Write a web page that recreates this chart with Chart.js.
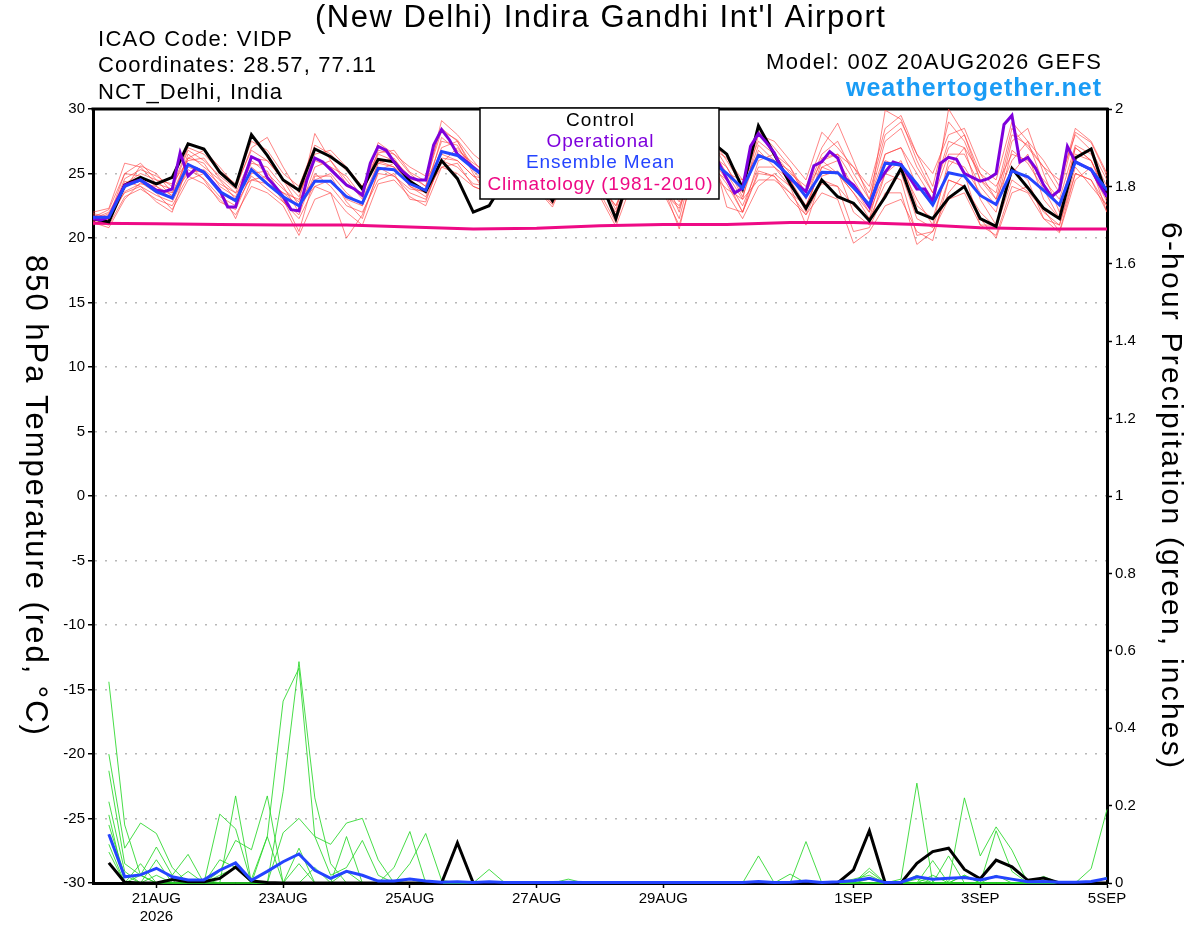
<!DOCTYPE html>
<html>
<head>
<meta charset="utf-8">
<title>VIDP GEFS meteogram</title>
<script src="https://cdn.jsdelivr.net/npm/chart.js@4.4.1/dist/chart.umd.min.js"></script>
<style>
  html, body { margin: 0; padding: 0; background: #fff; }
  #wrap { width: 1200px; height: 927px; position: relative; }
</style>
</head>
<body>
<div id="wrap"><canvas id="meteogram" width="1200" height="927"></canvas></div>
<script>
// time axis (hours after 00Z 20AUG2026)
const hours6 = Array.from({ length: 65 }, (_, i) => i * 6);
const hours3 = Array.from({ length: 129 }, (_, j) => j * 3);
const precipHours = hours6.slice(1);
const climHours = [0, 24, 48, 72, 96, 120, 144, 168, 192, 216, 240, 264, 288, 312, 336, 360, 384];

const tickHours = [24, 72, 120, 168, 216, 288, 336, 384];
const tickLabels = [['21AUG', '2026'], '23AUG', '25AUG', '27AUG', '29AUG', '1SEP', '3SEP', '5SEP'];

// 850 hPa temperature (C)
const tempControl = [21.5,21.25,24.1,24.7,24.2,24.7,27.3,26.9,25.1,24.0,
  28.0,26.4,24.5,23.7,26.9,26.3,25.4,23.8,26.1,25.9,
  24.4,23.6,26.0,24.6,22.0,22.5,24.5,25.5,24.8,22.9,
  25.5,26.0,24.5,21.5,25.5,26.3,25.5,24.0,26.8,27.5,
  26.5,23.85,28.7,26.5,24.2,22.3,24.5,23.2,22.7,21.35,
  23.2,25.4,22.0,21.5,23.1,24.0,21.5,20.9,25.4,23.9,
  22.3,21.5,26.2,26.9,23.2];

const tempMean = [21.6,21.6,24.0,24.5,23.6,23.1,25.7,25.1,23.6,22.9,
  25.3,24.2,23.2,22.5,24.4,24.4,23.2,22.7,25.4,25.3,
  24.2,23.7,26.7,26.4,25.4,24.5,26.0,25.8,25.0,24.0,
  26.0,25.8,24.8,23.3,25.8,25.9,25.2,24.4,26.2,26.0,
  25.0,23.85,26.4,25.9,24.75,23.2,25.1,25.06,23.9,22.6,
  25.8,25.66,24.2,22.56,25.06,24.8,23.3,22.6,25.2,24.75,
  23.7,22.56,25.9,25.3,23.7];

// operational run, 3-hourly
const tempOper = [21.5,21.4,21.6,22.9,24.1,24.3,24.5,24.1,23.7,23.6,
  23.8,26.6,24.8,25.4,25.1,24.4,23.7,22.4,22.4,24.5,
  26.3,26.0,24.7,24.0,23.2,22.2,22.1,24.5,26.2,25.9,
  25.3,24.7,24.1,23.8,23.3,25.8,27.1,26.8,25.9,25.2,
  24.7,24.5,24.5,27.2,28.4,27.6,26.5,26.0,25.5,25.0,
  24.2,25.5,27.0,26.8,26.0,25.3,24.8,24.3,23.8,25.5,
  27.2,26.9,26.1,25.4,24.9,24.4,24.0,25.8,27.4,27.0,
  26.2,25.5,25.0,24.6,24.2,26.0,27.6,27.2,26.5,25.8,
  24.6,23.5,23.85,27.1,28.1,27.4,26.6,25.3,24.6,24.1,
  23.6,25.6,25.9,26.7,26.2,24.6,24.1,23.3,22.4,24.2,
  25.1,25.9,25.7,24.75,23.8,23.8,22.8,25.8,26.25,26.1,
  25.0,24.7,24.4,24.6,25.0,28.8,29.5,25.9,26.25,25.4,
  24.1,23.2,23.7,27.1,25.9,25.6,25.3,24.2,23.2];

const tempClim = [21.14,21.1,21.05,21.0,21.0,20.85,20.7,20.75,20.95,21.05,21.05,21.2,21.2,21.05,20.8,20.7,20.7];

const tempMember01 = [21.8,21.5,24.6,25.3,24.8, 24.0,27.0,26.5,25.2, 24.2,27.5,26.8,25.0, 24.0,27.2,26.5,25.2,
  24.0,26.6,26.8,25.1, 24.4,28.3,27.6,26.0, 24.5,26.8,27.2,25.5, 23.6,26.5,27.3,25.8, 23.2,26.8,27.0,25.5,
  24.5,27.5,27.8,26.0, 24.0,28.3,27.0,25.5, 23.5,26.5,27.5,25.0, 23.0,27.5,28.5,25.5, 23.5,27.0,28.0,25.0,
  23.0,28.0,27.2,25.5, 23.5,28.2,27.4,24.8];
const tempMember02 = [21.3,21.0,23.2,23.8,23.0, 22.5,24.8,24.2,23.0, 21.8,24.0,23.5,22.5, 20.2,23.0,23.5,22.0,
  21.0,24.2,24.5,23.2, 22.5,25.5,25.8,24.0, 23.5,25.0,24.8,23.8, 22.6,25.0,24.6,23.2, 20.9,24.2,24.8,23.5,
  22.3,25.5,25.8,24.2, 22.0,25.2,24.8,23.5, 21.8,24.5,24.0,22.5, 21.5,24.2,25.0,21.5, 20.8,24.5,24.0,22.0,
  20.8,24.5,23.6,22.2, 20.5,25.0,24.5,22.0];
const tempMember03 = [21.6,22.2,25.0,25.8,24.5, 23.2,26.2,25.8,24.0, 23.2,26.0,25.0,23.8, 22.8,28.1,26.0,24.2,
  23.4,26.5,26.0,24.8, 24.0,29.1,28.0,26.5, 25.5,27.0,26.5,25.0, 24.0,26.8,26.2,25.0, 23.5,26.5,26.8,26.0,
  25.0,27.0,27.0,26.2, 24.5,27.5,26.5,25.5, 23.0,26.2,26.5,24.5, 22.5,29.9,29.2,26.0, 23.5,27.5,27.0,25.0,
  24.0,26.5,26.0,24.5, 23.0,27.2,26.5,24.0];
const tempMember04 = [21.0,21.8,23.5,24.0,23.3, 22.8,25.3,24.6,23.2, 22.5,24.8,23.8,22.8, 21.5,24.0,23.5,20.0,
  21.8,25.0,24.8,23.5, 23.0,26.0,25.5,24.2, 24.0,25.5,25.3,24.5, 22.8,25.5,25.2,23.8, 22.0,25.0,25.5,24.0,
  20.7,25.8,25.5,24.5, 22.0,25.0,24.8,23.0, 21.8,23.5,23.0,19.6, 20.5,22.5,23.0,20.5, 19.8,24.5,24.0,21.5,
  20.0,23.5,24.0,22.0, 21.0,25.0,24.5,22.5];
const tempMember05 = [22.0,22.3,25.8,25.5,24.2, 23.8,26.8,26.0,24.8, 23.8,27.0,27.8,25.5, 23.5,26.0,25.5,24.0,
  23.5,27.4,26.5,25.0, 24.0,27.5,27.2,25.0, 23.0,26.0,26.0,24.5, 22.9,26.2,26.5,24.5, 22.2,26.0,26.5,25.0,
  22.0,26.8,27.0,22.4, 22.0,26.0,26.5,25.0, 24.0,27.0,28.9,26.0, 23.0,26.5,27.0,24.0, 22.5,30.0,28.0,24.5,
  23.0,26.0,27.5,24.2, 22.5,26.5,26.0,23.5];
const tempMember06 = [21.4,21.2,24.0,24.5,23.8, 23.5,25.5,25.0,23.5, 22.8,25.5,24.5,23.5, 23.0,24.5,25.0,23.5,
  22.5,25.8,25.5,24.0, 23.5,27.0,27.5,25.5, 24.0,25.8,26.2,24.0, 22.7,25.8,26.0,24.0, 21.8,25.5,25.2,24.0,
  21.5,26.2,26.5,25.5, 23.2,26.8,25.5,24.0, 22.5,25.5,25.0,23.5, 21.5,26.0,25.5,23.0, 21.0,26.0,25.5,23.5,
  22.0,26.8,25.8,23.8, 21.5,26.0,25.2,22.8];
const tempMember07 = [21.9,21.6,25.0,24.8,24.0, 23.0,26.5,25.5,24.5, 23.0,25.8,25.5,24.0, 22.0,25.5,26.0,24.5,
  23.0,25.8,26.2,24.5, 23.5,27.8,26.8,25.8, 25.0,27.5,27.0,25.8, 24.2,27.0,27.5,26.0, 24.0,27.0,27.5,26.5,
  25.0,28.0,27.5,25.5, 23.5,27.2,26.0,25.2, 23.5,26.0,26.5,25.5, 24.0,28.5,29.5,26.5, 25.0,28.0,28.5,25.5,
  24.5,29.0,27.5,26.0, 24.0,28.5,27.5,25.0];
const tempMember08 = [21.2,20.8,23.0,24.3,23.5, 22.2,24.5,25.0,23.8, 21.5,24.5,24.8,22.8, 21.8,25.0,24.0,22.5,
  22.0,24.5,25.0,23.0, 22.8,26.2,26.0,24.8, 23.8,25.2,25.5,23.8, 22.4,25.2,25.8,23.5, 21.2,25.0,25.8,23.5,
  21.0,25.5,26.0,23.5, 21.5,24.0,25.0,24.0, 21.0,24.8,25.2,22.0, 21.0,25.0,24.5,20.2, 20.5,23.5,25.0,21.0,
  21.0,25.5,24.5,21.5, 20.4,24.5,25.5,22.0];
const tempMember09 = [21.5,22.0,24.2,25.0,24.5, 24.2,26.0,26.2,24.6, 23.5,26.2,26.0,24.5, 23.2,26.5,26.8,25.5,
  24.0,26.0,25.5,24.5, 24.5,26.5,26.0,24.8, 24.5,26.5,26.0,25.0, 23.5,26.5,26.2,25.0, 23.5,26.2,26.0,25.0,
  24.5,26.5,26.5,25.0, 24.5,26.5,26.0,24.5, 22.5,25.5,26.0,24.0, 22.0,26.5,27.0,25.0, 23.0,26.5,26.5,24.0,
  22.5,27.5,28.5,25.0, 22.0,27.0,26.0,23.0];
const tempMember10 = [21.7,21.4,24.4,24.0,22.8, 22.0,25.8,24.5,22.8, 22.2,25.0,25.2,23.0, 20.5,24.8,24.8,22.8,
  21.5,25.2,25.8,24.0, 23.2,25.8,27.0,25.5, 24.5,26.0,25.5,24.2, 23.0,25.5,25.5,24.2, 22.5,25.5,26.0,24.5,
  22.8,26.0,26.2,24.5, 22.5,25.5,25.5,24.5, 22.0,26.0,25.0,23.5, 22.0,25.0,26.0,22.5, 21.5,25.5,27.0,23.0,
  21.0,25.0,26.5,23.0, 21.5,27.0,26.0,23.5];
const tempMember11 = [21.3,21.9,23.8,25.6,25.0, 23.5,26.2,26.8,25.5, 24.0,26.8,26.0,24.5, 22.5,26.2,25.5,24.8,
  23.2,26.8,26.5,25.5, 24.8,28.5,27.5,25.2, 24.0,26.5,26.8,25.2, 23.8,26.8,27.0,25.2, 23.0,26.5,27.0,25.5,
  24.0,27.2,27.0,25.0, 23.0,28.0,27.5,26.0, 24.5,28.2,27.0,25.5, 23.5,28.0,29.0,26.5, 24.0,29.0,27.5,24.5,
  23.5,28.5,27.0,25.5, 24.5,28.0,26.8,24.5];
const tempMember12 = [21.5,21.3,23.6,24.2,24.0, 23.3,25.0,25.3,24.2, 23.5,24.5,24.2,23.5, 22.5,24.0,24.5,23.0,
  22.5,25.5,24.8,23.8, 23.6,25.5,25.0,24.0, 23.5,25.5,25.8,24.5, 23.0,25.0,25.5,24.0, 22.5,25.2,25.0,23.5,
  22.5,25.5,25.0,23.8, 23.0,24.5,24.5,23.5, 22.5,24.2,24.0,20.5, 20.8,23.5,23.5,19.5, 20.5,23.0,23.5,21.0,
  20.2,24.0,23.5,21.5, 21.0,25.5,24.0,22.5];

const tempMembers = [tempMember01, tempMember02, tempMember03, tempMember04, tempMember05, tempMember06,
  tempMember07, tempMember08, tempMember09, tempMember10, tempMember11, tempMember12];

// 6-hour precipitation (inches), hours 6..384
const precipControl = [0.052,0.002,0,0,0.009,0.003,0.003,0.012,0.041,0.005,0.001,0,0,0,0,0,
  0,0,0,0,0,0,0.104,0,0,0,0,0,0,0,0,0,
  0,0,0,0,0,0,0,0,0,0,0,0,0,0,0,0.034,
  0.135,0,0,0.051,0.081,0.09,0.035,0.011,0.059,0.042,0.007,0.013,0,0,0,0];
const precipMean = [0.126,0.016,0.021,0.038,0.016,0.008,0.008,0.033,0.052,0.007,0.03,0.055,0.075,0.033,0.012,0.03,
  0.02,0.005,0.005,0.01,0.005,0.002,0.003,0.001,0.003,0.001,0.001,0.001,0.001,0.002,0.001,0.001,
  0.001,0.001,0.001,0.001,0.001,0.001,0.001,0.001,0.001,0.004,0.001,0.002,0.005,0.001,0.003,0.006,
  0.012,0.001,0.002,0.016,0.01,0.012,0.014,0.008,0.017,0.01,0.003,0.004,0.002,0.002,0.004,0.012];

const precipMember01 = [0.52,0.15,0.02,0,0.01,0,0,0.02,0.04,0.01,0.12,0.47,0.555,0.12,0.02,0.04,
  0.11,0.02,0,0.01,0,0,0,0,0.035,0,0,0,0,0,0,0,
  0,0,0,0,0,0,0,0,0,0.07,0,0,0,0,0,0,
  0,0,0,0,0,0,0,0,0,0,0,0,0,0,0.037,0.19];
const precipMember02 = [0.333,0.09,0.155,0.128,0.04,0,0.01,0,0.225,0,0,0.236,0.572,0.22,0.05,0,
  0,0,0.04,0.133,0,0,0,0,0,0,0,0,0,0,0,0,
  0,0,0,0,0,0,0,0,0,0,0,0,0.107,0,0,0,
  0.038,0,0,0,0,0,0.22,0.07,0.145,0.085,0,0,0,0,0,0];
const precipMember03 = [0.29,0.05,0.02,0.093,0.02,0.074,0,0.178,0.14,0,0,0.13,0.167,0.12,0.1,0.155,
  0.167,0.06,0,0,0,0,0,0,0,0,0,0,0,0.01,0,0,
  0,0,0,0,0,0,0,0,0,0,0,0.023,0,0,0,0,
  0.01,0,0.01,0.258,0,0.07,0,0,0.135,0.03,0,0,0,0,0,0];
const precipMember04 = [0.21,0.03,0,0.06,0,0,0,0.03,0.11,0.086,0.225,0,0.09,0,0,0.12,
  0,0,0,0.05,0.128,0.007,0,0,0,0,0,0,0,0,0,0,
  0,0,0,0,0,0,0,0,0,0,0,0,0,0,0,0,
  0,0,0,0.02,0,0,0.02,0,0,0,0,0.017,0,0,0,0];
const precipMember05 = [0.176,0,0.02,0,0,0.03,0,0,0,0,0.12,0,0,0.04,0,0,
  0,0,0,0,0,0,0,0,0,0,0,0,0,0,0,0,
  0,0,0,0,0,0,0,0,0,0,0,0,0,0,0,0,
  0.03,0,0,0,0.058,0,0,0,0.02,0,0,0,0,0,0,0.015];
const precipMember06 = [0.15,0.02,0,0,0,0,0,0,0,0,0,0,0.05,0,0,0,
  0,0,0,0,0,0,0,0,0,0,0,0,0,0,0,0,
  0,0,0,0,0,0,0,0,0,0,0,0,0,0,0,0.01,
  0.02,0,0,0.01,0,0,0,0,0,0,0,0,0,0,0,0];
const precipMember07 = [0.1,0,0.05,0,0,0,0,0,0,0,0,0,0,0,0,0,
  0,0,0,0,0,0,0,0,0,0,0,0,0,0,0,0,
  0,0,0,0,0,0,0,0,0,0,0,0,0,0,0,0,
  0,0,0,0,0.02,0,0.02,0,0,0,0,0,0,0,0,0];
const precipMember08 = [0.08,0,0,0.02,0,0,0,0.06,0.04,0,0,0,0,0,0,0.03,
  0,0,0,0,0,0,0,0,0,0,0,0,0,0,0,0,
  0,0,0,0,0,0,0,0,0,0,0,0,0,0,0,0,
  0,0,0,0,0,0,0,0,0,0,0,0,0,0,0,0];

const precipMembers = [precipMember01, precipMember02, precipMember03, precipMember04,
  precipMember05, precipMember06, precipMember07, precipMember08];

// ---------------------------------------------------------------
const FONT = '"Liberation Sans", Arial, Helvetica, sans-serif';
const RED = 'rgba(255, 60, 60, 0.7)';
const GREEN = 'rgba(40, 215, 40, 0.95)';
const PURPLE = '#7e00dc';
const BLUE = '#2444ff';
const CLIM = '#ee0a85';

function toPoints(hours, values) {
    return values.map((v, k) => ({ x: hours[k], y: v }));
}

function line(label, hours, values, color, width, axis, order, clip) {
    return {
        label: label,
        data: toPoints(hours, values),
        borderColor: color,
        borderWidth: width,
        yAxisID: axis,
        order: order,
        clip: clip,
        pointRadius: 0,
        tension: 0,
        fill: false
    };
}

const datasets = [];
tempMembers.forEach((m, k) => datasets.push(line('member ' + (k + 1), hours6, m, RED, 0.9, 'y', 6, 0)));
precipMembers.forEach((m, k) => datasets.push(line('precip member ' + (k + 1), precipHours, m, GREEN, 0.9, 'y2', 5, 4)));
datasets.push(line('Climatology (1981-2010)', climHours, tempClim, CLIM, 3, 'y', 4, 0));
datasets.push(line('Control', hours6, tempControl, '#000', 3, 'y', 3, 0));
datasets.push(line('Control precip', precipHours, precipControl, '#000', 3, 'y2', 3, 4));
datasets.push(line('Operational', hours3, tempOper, PURPLE, 3, 'y', 2, 0));
datasets.push(line('Ensemble Mean', hours6, tempMean, BLUE, 3, 'y', 1, 0));
datasets.push(line('Ensemble Mean precip', precipHours, precipMean, BLUE, 3, 'y2', 1, 4));

// text spread to a measured width, like the wide-set plot fonts
function fitText(ctx, text, x, y, width, font, color, align) {
    ctx.save();
    ctx.font = font;
    ctx.letterSpacing = '0px';
    const natural = ctx.measureText(text).width;
    const gap = (width - natural) / (text.length - 1);
    ctx.letterSpacing = gap.toFixed(2) + 'px';
    ctx.fillStyle = color;
    ctx.textBaseline = 'middle';
    ctx.textAlign = 'left';
    let left = x - width / 2;
    if (align === 'left') left = x;
    if (align === 'right') left = x - width;
    ctx.fillText(text, left, y);
    ctx.restore();
}

const decorations = {
    id: 'decorations',
    beforeDatasetsDraw(chart) {
        const { ctx, chartArea: a } = chart;
        ctx.save();
        ctx.strokeStyle = '#000';
        ctx.lineWidth = 3;
        ctx.beginPath();
        ctx.moveTo(a.left - 1.5, a.top);
        ctx.lineTo(a.right + 1.5, a.top);
        ctx.stroke();
        ctx.restore();
    },
    afterDatasetsDraw(chart) {
        const ctx = chart.ctx;
        // legend box
        ctx.save();
        ctx.fillStyle = '#fff';
        ctx.fillRect(480, 108, 239, 91);
        ctx.strokeStyle = '#000';
        ctx.lineWidth = 1.5;
        ctx.strokeRect(480, 108, 239, 91);
        ctx.restore();
        const f = '19px ' + FONT;
        fitText(ctx, 'Control', 600, 121, 68, f, '#000');
        fitText(ctx, 'Operational', 600, 142, 107, f, PURPLE);
        fitText(ctx, 'Ensemble Mean', 600, 163, 148, f, BLUE);
        fitText(ctx, 'Climatology (1981-2010)', 600, 185, 225, f, CLIM);
    },
    afterDraw(chart) {
        const ctx = chart.ctx;
        fitText(ctx, "(New Delhi) Indira Gandhi Int'l Airport", 600, 18, 570, '31px ' + FONT, '#000');
        fitText(ctx, 'ICAO Code: VIDP', 98, 40, 194, '22px ' + FONT, '#000', 'left');
        fitText(ctx, 'Coordinates: 28.57, 77.11', 98, 66, 278, '22px ' + FONT, '#000', 'left');
        fitText(ctx, 'NCT_Delhi, India', 98, 93, 184, '22px ' + FONT, '#000', 'left');
        fitText(ctx, 'Model: 00Z 20AUG2026 GEFS', 1101, 63, 335, '22px ' + FONT, '#000', 'right');
        fitText(ctx, 'weathertogether.net', 1101, 89, 255, 'bold 25px ' + FONT, '#1a9cf5', 'right');

        ctx.save();
        ctx.translate(35, 495);
        ctx.rotate(Math.PI / 2);
        fitText(ctx, '850 hPa Temperature (red, \u00B0C)', 0, 0, 480, '31px ' + FONT, '#000');
        ctx.restore();

        ctx.save();
        ctx.translate(1170, 495);
        ctx.rotate(Math.PI / 2);
        fitText(ctx, '6-hour Precipitation (green, inches)', 0, 0, 546, '30px ' + FONT, '#000');
        ctx.restore();
    }
};

Chart.defaults.font.family = FONT;
Chart.defaults.color = '#000';

const edgeGrid = (c) => (c.tick && (c.tick.value === 30 || c.tick.value === -30)) ? 'rgba(0,0,0,0)' : '#b8b8b8';

new Chart(document.getElementById('meteogram'), {
    type: 'line',
    data: { datasets: datasets },
    options: {
        responsive: false,
        animation: false,
        devicePixelRatio: 1,
        events: [],
        layout: { padding: { top: 109, left: 0, right: 0, bottom: 0 } },
        plugins: {
            legend: { display: false },
            tooltip: { enabled: false }
        },
        scales: {
            x: {
                type: 'linear',
                min: 0,
                max: 384,
                afterBuildTicks: (scale) => { scale.ticks = tickHours.map(h => ({ value: h })); },
                afterFit: (scale) => { scale.height = 44; },
                ticks: {
                    autoSkip: false,
                    maxRotation: 0,
                    padding: 2,
                    font: { size: 15 },
                    callback: (value, index) => tickLabels[index]
                },
                grid: { drawOnChartArea: false, drawTicks: true, tickLength: 5, tickColor: '#000', tickWidth: 1.5 },
                border: { display: true, color: '#000', width: 3 }
            },
            y: {
                position: 'left',
                min: -30,
                max: 30,
                afterFit: (scale) => { scale.width = 93; },
                ticks: { stepSize: 5, padding: 3, font: { size: 15 } },
                grid: { color: edgeGrid, lineWidth: 1.5, drawTicks: true, tickLength: 5, tickColor: '#000', tickWidth: 1.5 },
                border: { display: true, color: '#000', width: 3, dash: [2, 8] }
            },
            y2: {
                position: 'right',
                min: 0,
                max: 2,
                afterFit: (scale) => { scale.width = 93; },
                ticks: {
                    stepSize: 0.2,
                    padding: 3,
                    font: { size: 15 },
                    callback: (value) => String(Number(value.toFixed(1)))
                },
                grid: { drawOnChartArea: false, drawTicks: true, tickLength: 5, tickColor: '#000', tickWidth: 1.5 },
                border: { display: true, color: '#000', width: 3 }
            }
        }
    },
    plugins: [decorations]
});
</script>
</body>
</html>
